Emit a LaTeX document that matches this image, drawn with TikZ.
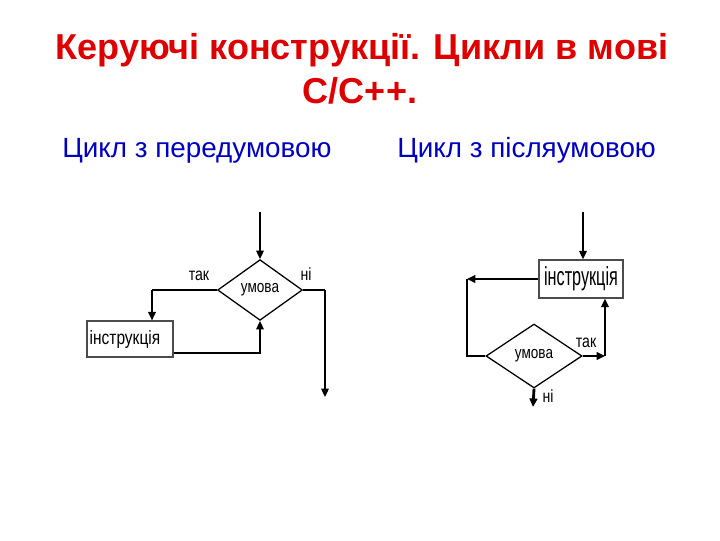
\documentclass[tikz,border=0pt]{standalone}
\usepackage{fontspec}
\setmainfont{Liberation Sans}
\newfontfamily\narrowsf[FakeStretch=0.8]{Liberation Sans}
\newfontfamily\narrowersf[FakeStretch=0.62]{Liberation Sans}
\usetikzlibrary{shapes.geometric,arrows.meta}

\definecolor{titlered}{RGB}{222,0,0}
\definecolor{subblue}{RGB}{0,0,192}

\tikzset{
  flow/.style={line width=0.9pt},
  exit/.style={line width=2pt},
  arr/.style={-{Triangle[length=6pt,width=5.5pt]}},
  cond/.style={diamond, draw, line width=0.9pt, inner sep=0pt,
    font=\narrowsf\fontsize{12}{13}\selectfont},
  instr/.style={rectangle, draw=black!70, line width=0.9pt, fill=white},
  lbl/.style={anchor=base, inner sep=0pt, font=\narrowsf\fontsize{12.5}{13}\selectfont},
  heading/.style={anchor=base, inner sep=0pt, text=titlered,
    font=\bfseries\fontsize{25.5}{30}\selectfont},
  subheading/.style={anchor=base west, inner sep=0pt, text=subblue,
    font=\fontsize{19.7}{23}\selectfont}
}

\begin{document}
\begin{tikzpicture}[x=0.708pt, y=-0.708pt]
\useasboundingbox (0,0) rectangle (720,540);

\node[heading] (title1) at (362,59) {Керуючі конструкції. Цикли в мові};
\node[heading] (title2) at (360,103) {С/С++.};
\node[subheading] (pre) at (62,157) {Цикл з передумовою};
\node[subheading] (post) at (397,157) {Цикл з післяумовою};

% цикл з передумовою
\node[cond, minimum width=60pt, minimum height=43pt] (condA) at (260,290) {умова};
\node[instr, minimum height=25.5pt, text width=57pt, inner xsep=2pt, align=left,
  font=\narrowsf\fontsize{13.7}{15}\selectfont] (bodyA) at (130,339) {інструкція};
\coordinate (startA) at (260,212);
\coordinate (yesA) at (152,290);
\coordinate (backA) at (260,353);
\coordinate (noA) at (325,290);
\coordinate (endA) at (325,397);

\draw[flow,arr] (startA) -- (condA.north);
\draw[exit] (condA.west) -- (yesA);
\draw[flow,arr] (yesA) -- (yesA |- bodyA.north);
\draw[flow,arr] (bodyA.east |- backA) -| (condA.south);
\draw[exit] (condA.east) -- (noA);
\draw[flow,arr] (noA) -- (endA);
\node[lbl] (yesAl) at (199,280) {так};
\node[lbl] (noAl) at (306,280) {ні};

% цикл з післяумовою
\node[instr, minimum width=59.5pt, minimum height=27pt, inner sep=1pt,
  font=\narrowersf\fontsize{18.5}{20}\selectfont] (bodyB) at (581,279) {інструкція};
\node[cond, minimum width=68pt, minimum height=45.3pt] (condB) at (534,356) {умова};
\coordinate (startB) at (583,212);
\coordinate (backB) at (467,279);
\coordinate (yesB) at (605,356);
\coordinate (endB) at (533,407);

\draw[flow,arr] (startB) -- (startB |- bodyB.north);
\draw[exit,arr] (bodyB.west) -- (backB);
\draw[flow] (backB) |- (condB.west);
\draw[exit,arr] (condB.east) -- (yesB);
\draw[flow,arr] (yesB) -- (yesB |- bodyB.south);
\draw[exit,arr] (condB.south) -- (endB);
\node[lbl] (yesBl) at (586,347) {так};
\node[lbl] (noBl) at (548,402) {ні};

\end{tikzpicture}
\end{document}
